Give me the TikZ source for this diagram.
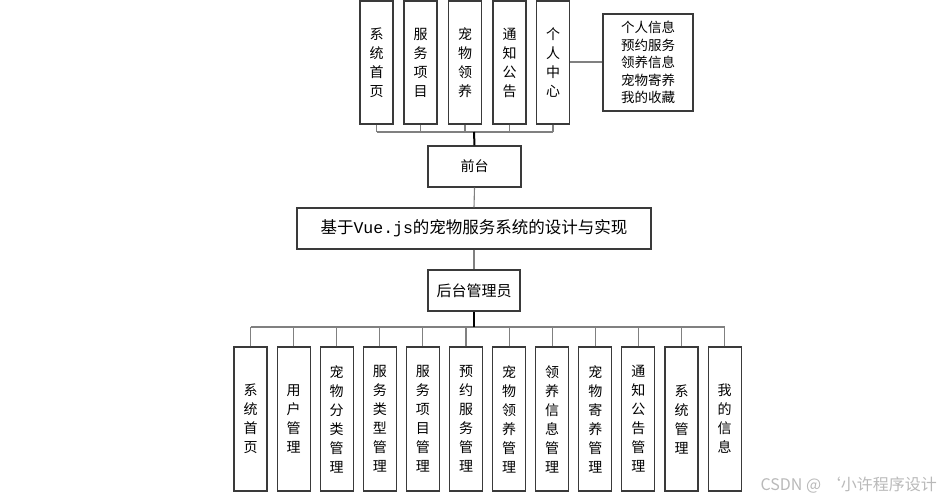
\documentclass[tikz,border=0pt]{standalone}
\usepackage{fontspec}
\setmainfont{Noto Sans CJK SC}
\newfontfamily\monofnt{Liberation Mono}
\definecolor{boxline}{HTML}{3A3A3A}
\definecolor{conn}{HTML}{808080}
\begin{document}
\begin{tikzpicture}[x=1pt,y=-1pt,
  vbox/.style={draw=boxline,line width=1.1pt,minimum width=33pt,inner sep=0pt,align=center,font=\fontsize{14pt}{19pt}\selectfont},
  hbox/.style={draw=boxline,line width=1.1pt,inner sep=0pt,align=center,font=\fontsize{13.5pt}{17.5pt}\selectfont},
  cn/.style={draw=conn,line width=1.1pt},
  trunk/.style={draw=black,line width=2pt}]
\useasboundingbox (0,0) rectangle (942,500);
% top boxes
\foreach \n/\x/\t in {t1/376.5/{系\\统\\首\\页},t2/420.5/{服\\务\\项\\目},t3/465/{宠\\物\\领\\养},t4/509.5/{通\\知\\公\\告},t5/553/{个\\人\\中\\心}}{
  \node[vbox,minimum height=123pt] (\n) at (\x,62.5) {\t};
}
\node[hbox,minimum width=90pt,minimum height=97pt] (info) at (648,62.5) {个人信息\\预约服务\\领养信息\\宠物寄养\\我的收藏};
\draw[cn] (t5.east |- 0,62) -- (info.west |- 0,62);
\node[hbox,minimum width=93pt,minimum height=41pt,font=\fontsize{14pt}{18pt}\selectfont] (front) at (474.5,166.5) {前台};
\node[hbox,minimum width=354pt,minimum height=41pt,font=\fontsize{16.5pt}{18pt}\selectfont] (main) at (474,228.5) {基于{\monofnt Vue.js}的宠物服务系统的设计与实现};
\node[hbox,minimum width=92pt,minimum height=41pt,font=\fontsize{15pt}{18pt}\selectfont] (back) at (474,290.5) {后台管理员};
\coordinate (busT) at (474,132);
\coordinate (busB) at (474,327);
\foreach \n in {t1,t2,t3,t4,t5}{\draw[cn] (\n.south) -- (\n.south |- busT);}
\draw[cn] (t1.south |- busT) -- (t5.south |- busT);
\draw[trunk] (busT) -- (front.north);
\draw[cn] (front.south) -- (main.north);
\draw[cn] (main.south) -- (back.north);
% bottom boxes
\foreach \i/\t in {1/{系\\统\\首\\页},2/{用\\户\\管\\理},3/{宠\\物\\分\\类\\管\\理},4/{服\\务\\类\\型\\管\\理},5/{服\\务\\项\\目\\管\\理},6/{预\\约\\服\\务\\管\\理},7/{宠\\物\\领\\养\\管\\理},8/{领\\养\\信\\息\\管\\理},9/{宠\\物\\寄\\养\\管\\理},10/{通\\知\\公\\告\\管\\理},11/{系\\统\\管\\理},12/{我\\的\\信\\息}}{
  \node[vbox,minimum height=144pt] (b\i) at ({250.5+43.1*(\i-1)},419) {\t};
  \draw[cn] (b\i.north) -- (b\i.north |- busB);
}
\draw[cn] (b1.north |- busB) -- (b12.north |- busB);
\draw[trunk] (back.south) -- (busB);
\node[text=gray!55,font=\fontsize{16pt}{18pt}\selectfont,anchor=east,inner sep=0pt] (wm) at (937,485) {CSDN @ ‘小许程序设计};
\end{tikzpicture}
\end{document}
